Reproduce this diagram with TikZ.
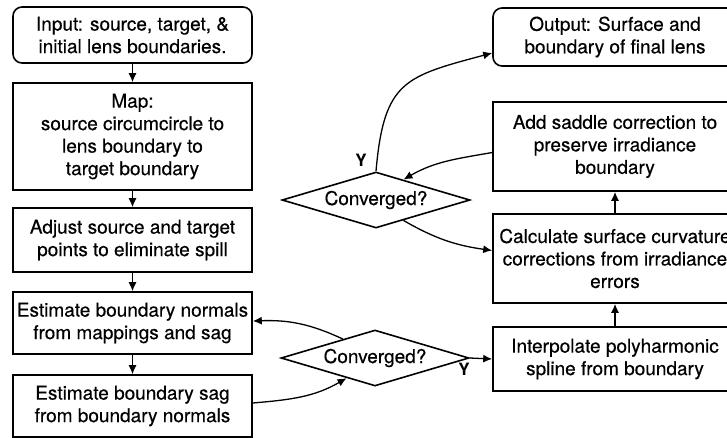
\documentclass[tikz,border=0pt]{standalone}
\usepackage{fontspec}
\setmainfont{TeX Gyre Heros}
\newfontfamily\medfont[FakeBold=0.4]{TeX Gyre Heros}
\usetikzlibrary{shapes.geometric,arrows.meta,calc}
\begin{document}
\begin{tikzpicture}[x=1pt,y=1pt,
  txt/.style={font=\medfont\fontsize{19pt}{22.5pt}\selectfont},
  box/.style={draw,line width=1.6pt,align=center,inner sep=2pt,txt},
  lbox/.style={box,minimum width=239pt},
  rbox/.style={box,minimum width=244pt},
  dec/.style={draw,diamond,line width=1.6pt,minimum width=188pt,minimum height=56pt,inner sep=0pt,aspect=3.36,txt},
  arr/.style={line width=1.3pt,-{Latex[length=9pt,width=8pt]}},
  ylab/.style={font=\bfseries\fontsize{17pt}{17pt}\selectfont,inner sep=0pt}
]
\useasboundingbox (0,0) rectangle (727,-437);

% left column
\node[lbox,rounded corners=9pt,minimum height=56pt] (inp) at (132.5,-35) {Input: source, target, \&\\initial lens boundaries.};
\node[lbox,minimum height=107pt] (map) at (132.5,-136.5) {Map:\\source circumcircle to\\lens boundary to\\target boundary};
\node[lbox,minimum height=64pt] (adj) at (132.5,-240) {Adjust source and target\\points to eliminate spill};
\node[lbox,minimum height=62pt] (nor) at (132.5,-323) {Estimate boundary normals\\from mappings and sag};
\node[lbox,minimum height=62pt] (sag) at (132.5,-406) {Estimate boundary sag\\from boundary normals};

% right column
\node[rbox,rounded corners=9pt,minimum height=58pt] (out) at (615,-37) {Output: Surface and\\boundary of final lens};
\node[rbox,minimum height=89pt] (sad) at (615,-146.5) {Add saddle correction to\\preserve irradiance\\boundary};
\node[rbox,minimum height=89pt] (cal) at (615,-258.5) {Calculate surface curvature\\corrections from irradiance\\errors};
\node[rbox,minimum height=64pt] (int) at (615,-359) {Interpolate polyharmonic\\spline from boundary};

% decisions
\node[dec] (d1) at (376,-200) {Converged?};
\node[dec] (d2) at (375,-358) {Converged?};

% labels
\node[ylab] (y1) at (361,-160) {Y};
\node[ylab] (y2) at (464,-369) {Y};

% straight arrows
\draw[arr] (inp.south) -- (map.north);
\draw[arr] (map.south) -- (adj.north);
\draw[arr] (adj.south) -- (nor.north);
\draw[arr] (nor.south) -- (sag.north);
\draw[arr] (int.north) -- (cal.south);
\draw[arr] (cal.north) -- (sad.south);
\draw[arr] (d2.east) -- (int.west);

% curved arrows
\draw[arr] (d1.north) to[out=85,in=195,looseness=1.4] ([yshift=-16pt]out.west);
\draw[arr] ([yshift=-6pt]sad.west) to[out=190,in=30] ($(d1.north)!0.29!(d1.east)$);
\draw[arr] ($(d1.south)!0.29!(d1.east)$) to[out=-30,in=172] ([yshift=8pt]cal.west);
\draw[arr] ($(d2.north)!0.34!(d2.west)$) to[out=155,in=2] ([yshift=2pt]nor.east);
\draw[arr] ([yshift=3pt]sag.east) to[out=5,in=210] ($(d2.south)!0.3!(d2.west)$);
\end{tikzpicture}
\end{document}
